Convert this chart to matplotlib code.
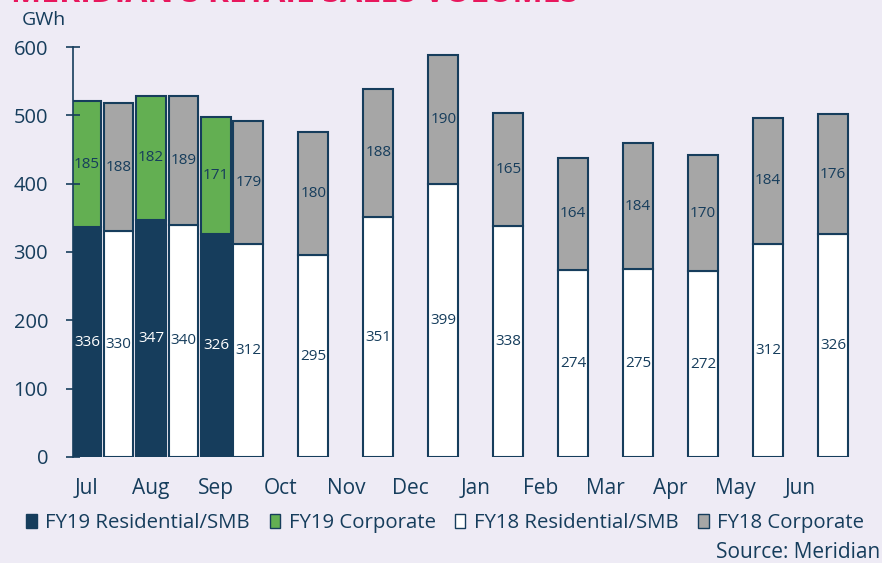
import numpy as np
import matplotlib.pyplot as plt
from matplotlib.patches import Patch

months = ['Jul', 'Aug', 'Sep', 'Oct', 'Nov', 'Dec', 'Jan', 'Feb', 'Mar', 'Apr', 'May', 'Jun']
fy19_res = [336, 347, 326]
fy19_corp = [185, 182, 171]
fy18_res = [330, 340, 312, 295, 351, 399, 338, 274, 275, 272, 312, 326]
fy18_corp = [188, 189, 179, 180, 188, 190, 165, 164, 184, 170, 184, 176]

navy = '#163d5c'
green = '#63af52'
grey = '#a6a6a6'
bg = '#eeebf5'

plt.rcParams['font.family'] = ['Open Sans', 'DejaVu Sans']

fig = plt.figure(figsize=(8.82, 5.63), dpi=100, facecolor=bg)
ax = fig.add_axes([0.0828, 0.1883, 0.886, 0.7282])
ax.set_facecolor(bg)

x = np.arange(len(months))
w = 0.46
x19 = x[:len(fy19_res)]
x18 = x + 0.5

b1 = ax.bar(x19, fy19_res, w, color=navy, edgecolor=navy, linewidth=1.5)
b2 = ax.bar(x19, fy19_corp, w, bottom=fy19_res, color=green, edgecolor=navy, linewidth=1.5)
b3 = ax.bar(x18, fy18_res, w, color='white', edgecolor=navy, linewidth=1.5)
b4 = ax.bar(x18, fy18_corp, w, bottom=fy18_res, color=grey, edgecolor=navy, linewidth=1.5)

for bars, col in [(b1, 'white'), (b2, navy), (b3, navy), (b4, navy)]:
    ax.bar_label(bars, label_type='center', color=col, fontsize=11)

ax.set_ylim(0, 600)
ax.set_xlim(-0.2, 11.83)
ax.set_yticks([0, 100, 200, 300, 400, 500, 600])
ax.set_xticks(x)
ax.set_xticklabels(months)

for s in ['top', 'right', 'bottom']:
    ax.spines[s].set_visible(False)
ax.spines['left'].set_color(navy)
ax.spines['left'].set_linewidth(1.2)
ax.tick_params(axis='y', direction='inout', length=10, width=1.2, color=navy,
               labelcolor=navy, labelsize=14.5, pad=13)
ax.tick_params(axis='x', length=0, labelcolor=navy, labelsize=15, pad=15)

fig.text(0.025, 0.965, 'GWh', color=navy, fontsize=14, ha='left', va='center')
# title sits mostly above the visible area, as in the source image
fig.text(0.012, 1 - 2.5 / 563, "MERIDIAN'S RETAIL SALES VOLUMES", color='#e8175d',
         fontsize=23, fontweight='bold', ha='left', va='baseline')

handles = [Patch(facecolor=navy, edgecolor=navy, label='FY19 Residential/SMB'),
           Patch(facecolor=green, edgecolor=navy, label='FY19 Corporate'),
           Patch(facecolor='white', edgecolor=navy, label='FY18 Residential/SMB'),
           Patch(facecolor=grey, edgecolor=navy, label='FY18 Corporate')]
fig.legend(handles=handles, loc='center', bbox_to_anchor=(0.505, 1 - 523 / 563), ncol=4,
           frameon=False, fontsize=14.7, labelcolor=navy, handlelength=0.5, handleheight=0.7,
           handletextpad=0.43, columnspacing=0.96)

fig.text(0.998, 1 - 552 / 563, 'Source: Meridian', color=navy, fontsize=15,
         ha='right', va='center')

fig.savefig('out.png', dpi=100, facecolor=bg)
